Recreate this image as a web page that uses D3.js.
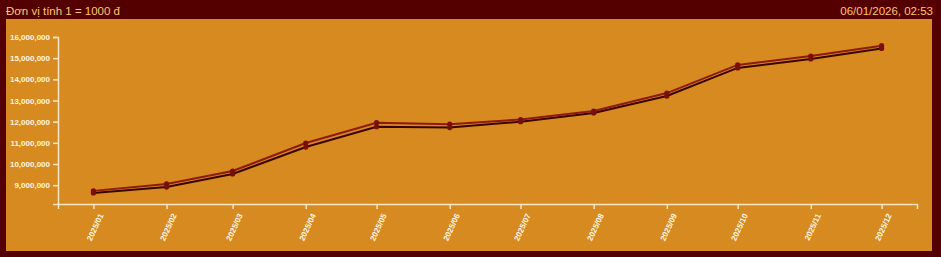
<!DOCTYPE html>
<html><head><meta charset="utf-8">
<script src="https://cdn.jsdelivr.net/npm/d3@7"></script>
<style>
html,body{margin:0;padding:0;background:#550000;}
svg{display:block;font-family:"Liberation Sans",Arial,sans-serif;}
</style></head>
<body>
<svg id="c" width="941" height="257"></svg>
<script>
const titleLeft = "Đơn vị tính 1 = 1000 đ";
const titleRight = "06/01/2026, 02:53";
const months = ["2025-01","2025-02","2025-03","2025-04","2025-05","2025-06","2025-07","2025-08","2025-09","2025-10","2025-11","2025-12"];
const seriesUpper = [8730000,9060000,9670000,10990000,11950000,11880000,12100000,12500000,13350000,14680000,15100000,15590000];
const seriesLower = [8630000,8910000,9530000,10800000,11760000,11720000,12000000,12410000,13210000,14540000,14960000,15460000];
const yTicks = [9000000,10000000,11000000,12000000,13000000,14000000,15000000,16000000];
const yDomain = [8110000,16000000];

const svg = d3.select("#c");
const W = 941, H = 257;
svg.append("rect").attr("x",0).attr("y",0).attr("width",W).attr("height",H).attr("fill","#550000");
svg.append("rect").attr("x",6).attr("y",19).attr("width",926).attr("height",232).attr("fill","#D68A1F");
svg.append("text").attr("x",6).attr("y",15).attr("fill","#FFC66B").attr("font-size","11.5px").text(titleLeft);
svg.append("text").attr("x",933).attr("y",15).attr("text-anchor","end").attr("fill","#FFC66B").attr("font-size","11.5px").text(titleRight);

const parse = d3.timeParse("%Y-%m");
const dates = months.map(parse);
const x = d3.scaleTime()
  .domain([d3.timeDay.offset(dates[0],-15), d3.timeDay.offset(dates[dates.length-1],15)])
  .range([58,917]);
const y = d3.scaleLinear().domain(yDomain).range([204,37]);

const axisColor = "#F8E6C4";
const gx = svg.append("g").attr("transform","translate(0,204)")
  .call(d3.axisBottom(x).tickValues(dates).tickFormat(d3.timeFormat("%Y/%m")).tickSize(5).tickSizeOuter(5));
gx.selectAll("path,line").attr("stroke",axisColor).attr("stroke-width",1.5);
gx.selectAll("text").attr("fill","#FFF6E6").attr("font-size","8px").attr("font-weight","bold")
  .attr("text-anchor","end").attr("dx","-0.3em").attr("dy","0.5em")
  .attr("transform","translate(0,4) rotate(-65)");

const gy = svg.append("g").attr("transform","translate(58,0)")
  .call(d3.axisLeft(y).tickValues(yTicks).tickFormat(d3.format(",")).tickSize(5).tickSizeOuter(5).tickPadding(3));
gy.selectAll("path,line").attr("stroke",axisColor).attr("stroke-width",1.5);
gy.selectAll("text").attr("fill","#FFF6E6").attr("font-size","8px").attr("font-weight","bold");

const line = d3.line().x(d=>x(d[0])).y(d=>y(d[1]));
const dataLower = dates.map((d,i)=>[d,seriesLower[i]]);
const dataUpper = dates.map((d,i)=>[d,seriesUpper[i]]);
svg.append("path").datum(dataLower).attr("d",line).attr("fill","none").attr("stroke","#3A0500").attr("stroke-width",2);
svg.append("path").datum(dataUpper).attr("d",line).attr("fill","none").attr("stroke","#8E1A10").attr("stroke-width",2);
[dataLower,dataUpper].forEach(ds=>{
  svg.append("g").selectAll("circle").data(ds).join("circle")
    .attr("cx",d=>x(d[0])).attr("cy",d=>y(d[1])).attr("r",2.6).attr("fill","#7A0E0A");
});
</script>
</body></html>
